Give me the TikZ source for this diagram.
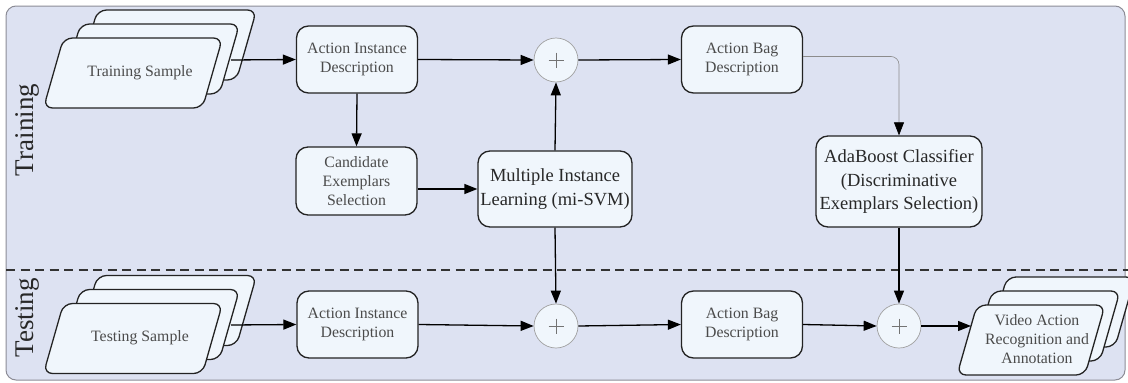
\documentclass[tikz,border=0pt]{standalone}
\usepackage{fontspec}
\setmainfont{Liberation Serif}
\usetikzlibrary{arrows.meta,calc}
\definecolor{bgfill}{RGB}{221,226,242}
\definecolor{bgline}{RGB}{140,140,150}
\definecolor{boxfill}{RGB}{240,246,252}
\definecolor{boxline}{RGB}{35,35,35}
\definecolor{smalltxt}{RGB}{75,75,75}
\definecolor{bigtxt}{RGB}{40,40,40}
\definecolor{plusline}{RGB}{160,160,160}
\newcommand\stackshape[4]{%
  \filldraw[stk] ({#1-#3/2+20},{#2-#4/2}) -- ({#1+#3/2},{#2-#4/2}) -- ({#1+#3/2-20},{#2+#4/2}) -- ({#1-#3/2},{#2+#4/2}) -- cycle;}
\tikzset{
  stk/.style={draw=boxline, fill=boxfill, line width=1.3pt, rounded corners=9pt},
  smallbox/.style={draw=boxline, fill=boxfill, line width=1.3pt, rounded corners=12pt, inner sep=0pt, align=center, text=smalltxt, font=\fontsize{15.8}{19}\selectfont},
  bigbox/.style={draw=boxline, fill=boxfill, line width=1.3pt, rounded corners=12pt, inner sep=0pt, align=center, text=bigtxt, font=\fontsize{18.5}{23.5}\selectfont},
  stktext/.style={align=center, text=smalltxt, font=\fontsize{15.8}{19}\selectfont, inner sep=0pt},
  plusnode/.style={circle, draw=plusline, fill=boxfill, line width=0.7pt, minimum size=44pt, inner sep=0pt},
  arr/.style={line width=1.3pt, draw=black, -{Triangle[length=13pt,width=10pt]}},
  thinarr/.style={line width=0.6pt, draw=black!45, rounded corners=8pt, -{Triangle[length=13pt,width=10pt,color=black]}},
  sidelabel/.style={rotate=90, text=bigtxt, font=\fontsize{27}{30}\selectfont, inner sep=0pt}
}
\begin{document}
\begin{tikzpicture}[x=1pt,y=-1pt]
\useasboundingbox (0,0) rectangle (1128,383);
\clip (0,0) rectangle (1128,383);
% background
\filldraw[fill=bgfill, draw=bgline, line width=1pt, rounded corners=10pt] (6,6) rectangle (1125,380);
\draw[dash pattern=on 9pt off 5.5pt, line width=1.3pt, draw=black!80] (6,270) -- (1128,270);
% side labels
\node[sidelabel] (lbltrain) at (27,130) {Training};
\node[sidelabel] (lbltest) at (27,318) {Testing};
% training stack
\stackshape{167}{45}{179}{70}
\stackshape{150}{59}{179}{70}
\stackshape{133}{73}{179}{70}
\node[stktext] (ts) at (140,73) {Training Sample};
\coordinate (tsout) at (231,60);
% testing stack
\stackshape{167}{310.5}{179}{70}
\stackshape{150}{324.5}{179}{70}
\stackshape{133}{338.5}{179}{70}
\node[stktext] (tes) at (140,338) {Testing Sample};
\coordinate (tesout) at (231,325);
% output stack
\stackshape{1061}{312}{148}{70}
\stackshape{1046}{326}{148}{70}
\stackshape{1031}{340}{148}{70}
\node[stktext] (va) at (1037,339) {Video Action\\Recognition and\\Annotation};
\coordinate (vain) at (971,326);
% boxes
\node[smallbox, minimum width=121pt, minimum height=67pt] (aid1) at (357,59.5) {Action Instance\\Description};
\node[smallbox, minimum width=121pt, minimum height=68pt] (cand) at (356.5,181) {Candidate\\Exemplars\\Selection};
\node[bigbox, minimum width=154pt, minimum height=76pt] (mil) at (555,189) {Multiple Instance\\Learning (mi-SVM)};
\node[smallbox, minimum width=121pt, minimum height=67pt] (abd1) at (742,59.5) {Action Bag\\Description};
\node[bigbox, minimum width=166pt, minimum height=91pt] (ada) at (899,181.5) {AdaBoost Classifier\\(Discriminative\\Exemplars Selection)};
\node[smallbox, minimum width=121pt, minimum height=67pt] (aid2) at (357.5,324.5) {Action Instance\\Description};
\node[smallbox, minimum width=121pt, minimum height=67pt] (abd2) at (742,324.5) {Action Bag\\Description};
% plus nodes
\node[plusnode] (p1) at (556,60) {};
\node[plusnode] (p2) at (556,326) {};
\node[plusnode] (p3) at (899,326) {};
\foreach \p in {p1,p2,p3}{
  \draw[draw=black!55, line width=0.8pt] ($(\p)+(-7.5,0)$) -- ($(\p)+(7.5,0)$);
  \draw[draw=black!55, line width=0.8pt] ($(\p)+(0,-7.5)$) -- ($(\p)+(0,7.5)$);
}
% connectors
\draw[arr] (tsout) -- (aid1.west);
\draw[arr] (aid1.east) -- (p1.west);
\draw[arr] (p1.east) -- (abd1.west);
\draw[arr] (aid1.south) -- (cand.north);
\draw[arr] (cand.east |- mil.west) -- (mil.west);
\draw[arr] (mil.north) -- (p1.south);
\draw[arr] (mil.south) -- (p2.north);
\draw[thinarr] ($(abd1.east)+(0,-3)$) -| (ada.north);
\draw[arr] (ada.south) -- (p3.north);
\draw[arr] (tesout) -- (aid2.west);
\draw[arr] (aid2.east) -- (p2.west);
\draw[arr] (p2.east) -- (abd2.west);
\draw[arr] (abd2.east) -- (p3.west);
\draw[arr] (p3.east) -- (vain);
\end{tikzpicture}
\end{document}
